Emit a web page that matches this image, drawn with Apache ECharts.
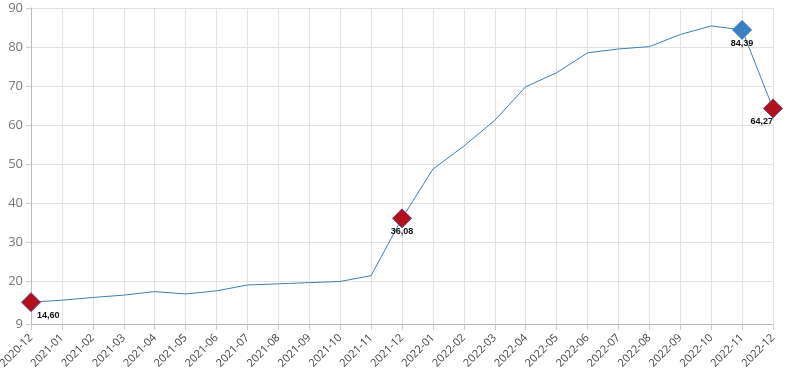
<!DOCTYPE html>
<html><head><meta charset="utf-8">
<script src="https://cdn.jsdelivr.net/npm/echarts@6/dist/echarts.min.js"></script>
<style>html,body{margin:0;padding:0;background:#fff}#c{width:797px;height:385px}</style>
</head><body><div id="c"></div>
<script>
const categories = ['2020-12','2021-01','2021-02','2021-03','2021-04','2021-05','2021-06','2021-07','2021-08','2021-09','2021-10','2021-11','2021-12','2022-01','2022-02','2022-03','2022-04','2022-05','2022-06','2022-07','2022-08','2022-09','2022-10','2022-11','2022-12'];
const values = [14.60,15.1,15.8,16.4,17.3,16.7,17.5,19.0,19.3,19.6,19.9,21.4,36.08,48.7,54.6,61.2,69.8,73.4,78.5,79.5,80.1,83.2,85.4,84.39,64.27];
const yTicks = [9,20,30,40,50,60,70,80,90];
const redPoints = [0,12,24];
const bluePoints = [23];

const fmt = v => v.toFixed(2).replace('.', ',');
const last = values.length - 1;
const data = values.map((v,i) => {
  if (redPoints.includes(i) || bluePoints.includes(i)) {
    const red = redPoints.includes(i);
    const label = {show:true, position: 'bottom', distance: -1, formatter: fmt(v),
        fontSize: 9, fontWeight:'bold', color:'#111', fontFamily:'Liberation Sans'};
    if (i === 0) { label.position = [16,19]; label.distance = 0; }
    if (i === last) { label.align = 'right'; }
    return {
      value: v, symbol: 'diamond', symbolSize: 19,
      itemStyle: red ? {color:'#b0121c', borderColor:'#6f3f8a', borderWidth:1} : {color:'#3a7fc0', borderColor:'#3a7fc0', borderWidth:1},
      label: label
    };
  }
  return {value: v, symbol:'none'};
});

const chart = echarts.init(document.getElementById('c'));
chart.setOption({
  animation:false,
  grid:{left:31,right:24,top:8,bottom:61,containLabel:false,outerBoundsMode:'none'},
  xAxis:{type:'category',data:categories,boundaryGap:false,
    axisLine:{lineStyle:{color:'#bbb'}},
    axisTick:{show:true,length:6,lineStyle:{color:'#ccc'}},
    axisLabel:{rotate:45,fontSize:11,color:'#444',fontFamily:'Open Sans',margin:12,interval:0},
    splitLine:{show:true,lineStyle:{color:'#e3e3e3'}}},
  yAxis:{type:'value',min:9,max:90,
    axisLine:{show:true,lineStyle:{color:'#bbb'}},
    axisTick:{show:true,customValues:yTicks,lineStyle:{color:'#ccc'}},
    axisLabel:{customValues:yTicks,fontSize:13,color:'#777',fontFamily:'Open Sans',margin:8},
    splitLine:{show:true,lineStyle:{color:'#e3e3e3'}}},
  series:[{type:'line',data:data,showSymbol:true,
    lineStyle:{color:'#3f7fb3',width:1},itemStyle:{color:'#3f7fb3'}}]
});
</script></body></html>
